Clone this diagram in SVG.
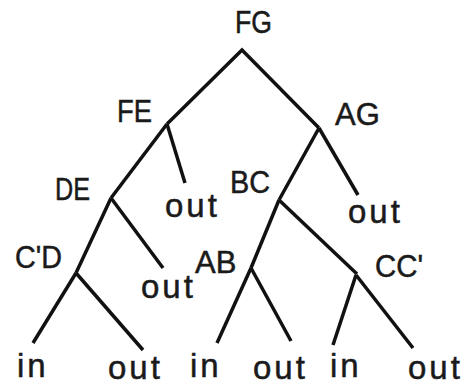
<svg xmlns="http://www.w3.org/2000/svg" width="469" height="385" viewBox="0 0 469 385">
<style>
.lbl{font-family:"Liberation Sans",Arial,sans-serif;font-size:31px;fill:#1a1a1a;stroke:#1a1a1a;stroke-width:0.5}
.leaf{font-family:"Liberation Sans",Arial,sans-serif;font-size:33px;fill:#1a1a1a;stroke:#1a1a1a;stroke-width:0.5;letter-spacing:3px}
.edge{stroke:#111;stroke-width:3.5;fill:none;stroke-linecap:butt;stroke-linejoin:miter}
</style>
<rect width="469" height="385" fill="#fff"/>
<g id="connectors">
<polyline class="edge" points="167,124 242,50 319,128"/>
<line class="edge" x1="167" y1="124" x2="111" y2="198"/>
<line class="edge" x1="167" y1="124" x2="185" y2="183"/>
<line class="edge" x1="319" y1="128" x2="279" y2="200"/>
<line class="edge" x1="319" y1="128" x2="358" y2="195"/>
<line class="edge" x1="111" y1="198" x2="76" y2="273"/>
<line class="edge" x1="111" y1="198" x2="163" y2="268"/>
<line class="edge" x1="279" y1="200" x2="251" y2="268"/>
<line class="edge" x1="279" y1="200" x2="357" y2="274"/>
<line class="edge" x1="76" y1="273" x2="33" y2="343"/>
<line class="edge" x1="76" y1="273" x2="143" y2="350"/>
<line class="edge" x1="251" y1="268" x2="217" y2="343"/>
<line class="edge" x1="251" y1="268" x2="291" y2="341"/>
<line class="edge" x1="356" y1="275" x2="333" y2="345"/>
<line class="edge" x1="356" y1="275" x2="413" y2="348"/>
</g>
<g id="FG"><text class="lbl" x="235" y="33" textLength="37" lengthAdjust="spacingAndGlyphs">FG</text></g>
<g id="FE"><text class="lbl" x="117" y="122" textLength="35" lengthAdjust="spacingAndGlyphs">FE</text></g>
<g id="AG"><text class="lbl" x="335" y="125">AG</text></g>
<g id="DE"><text class="lbl" x="55" y="200" textLength="35" lengthAdjust="spacingAndGlyphs">DE</text></g>
<g id="BC"><text class="lbl" x="230" y="193" textLength="40" lengthAdjust="spacingAndGlyphs">BC</text></g>
<g id="out-FE"><text class="leaf" x="165" y="217">out</text></g>
<g id="out-AG"><text class="leaf" x="348" y="223">out</text></g>
<g id="CpD"><text class="lbl" x="15" y="268" textLength="47" lengthAdjust="spacingAndGlyphs">C'D</text></g>
<g id="out-DE"><text class="leaf" x="141" y="298">out</text></g>
<g id="AB"><text class="lbl" x="195" y="273">AB</text></g>
<g id="CCp"><text class="lbl" x="375" y="277" textLength="48" lengthAdjust="spacingAndGlyphs">CC'</text></g>
<g id="in-CpD"><text class="leaf" x="17" y="377">in</text></g>
<g id="out-CpD"><text class="leaf" x="108" y="379">out</text></g>
<g id="in-AB"><text class="leaf" x="190" y="377">in</text></g>
<g id="out-AB"><text class="leaf" x="253" y="379">out</text></g>
<g id="in-CCp"><text class="leaf" x="330" y="377">in</text></g>
<g id="out-CCp"><text class="leaf" x="408" y="379">out</text></g>
</svg>
